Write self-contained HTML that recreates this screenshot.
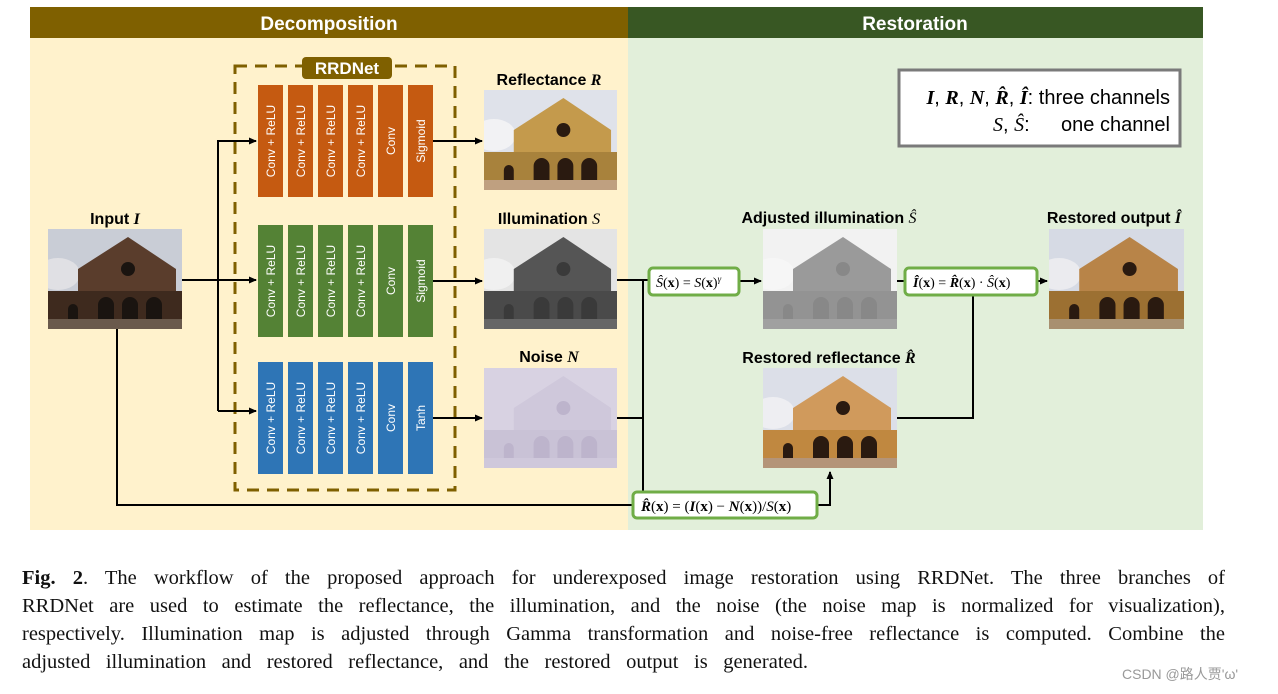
<!DOCTYPE html>
<html><head><meta charset="utf-8"><style>
body{margin:0;width:1278px;height:694px;background:#fff;overflow:hidden;position:relative}
svg text{font-family:"Liberation Sans","DejaVu Sans",sans-serif}
.cap{position:absolute;left:22px;width:1203px;font-family:"Liberation Serif",serif;font-size:20.5px;color:#111;line-height:28px;white-space:normal;text-align:justify;text-align-last:justify}
</style></head><body>
<svg width="1278" height="540" viewBox="0 0 1278 540" style="position:absolute;left:0;top:0">
<defs>
<symbol id="ch" viewBox="0 0 134 100" preserveAspectRatio="none">
<rect width="134" height="100" style="fill:var(--sky)"/>
<ellipse cx="10" cy="45" rx="22" ry="16" style="fill:var(--cl)"/>
<polygon points="30,40 80,8 128,40 128,100 30,100" style="fill:var(--b1)"/>
<rect x="0" y="62" width="134" height="38" style="fill:var(--b2)"/>
<circle cx="80" cy="40" r="7" style="fill:var(--w)"/>
<rect x="0" y="90" width="134" height="10" style="fill:var(--g)"/>
<path d="M20 90v-10a5 5 0 0 1 10 0v10M50 90v-14a8 8 0 0 1 16 0v14M74 90v-14a8 8 0 0 1 16 0v14M98 90v-14a8 8 0 0 1 16 0v14" style="fill:var(--w)"/>
</symbol>
<marker id="a" markerWidth="8" markerHeight="8" refX="7" refY="4" orient="auto" markerUnits="userSpaceOnUse"><path d="M0,0.5L8,4L0,7.5z" fill="#000"/></marker>
</defs>
<rect x="30" y="7" width="598" height="31" fill="#7f6000"/>
<rect x="628" y="7" width="575" height="31" fill="#385723"/>
<rect x="30" y="38" width="598" height="492" fill="#fff2cc"/>
<rect x="628" y="38" width="575" height="492" fill="#e2efda"/>
<text x="329" y="30" fill="#fff" font-size="19" font-weight="bold" text-anchor="middle">Decomposition</text>
<text x="915" y="30" fill="#fff" font-size="19" font-weight="bold" text-anchor="middle">Restoration</text>
<rect x="235" y="66" width="220" height="424" fill="none" stroke="#7f6000" stroke-width="3" stroke-dasharray="12,8"/>
<rect x="302" y="57" width="90" height="22" rx="4" fill="#7f6000"/>
<text x="347" y="74" fill="#fff" font-size="17" font-weight="bold" text-anchor="middle">RRDNet</text>
<g font-size="12" fill="#fff" text-anchor="middle">
<rect x="258" y="85" width="25" height="112" fill="#c55a11"/><rect x="288" y="85" width="25" height="112" fill="#c55a11"/><rect x="318" y="85" width="25" height="112" fill="#c55a11"/><rect x="348" y="85" width="25" height="112" fill="#c55a11"/><rect x="378" y="85" width="25" height="112" fill="#c55a11"/><rect x="408" y="85" width="25" height="112" fill="#c55a11"/>
<text transform="translate(275,141) rotate(-90)">Conv + ReLU</text><text transform="translate(305,141) rotate(-90)">Conv + ReLU</text><text transform="translate(335,141) rotate(-90)">Conv + ReLU</text><text transform="translate(365,141) rotate(-90)">Conv + ReLU</text><text transform="translate(395,141) rotate(-90)">Conv</text><text transform="translate(425,141) rotate(-90)">Sigmoid</text>
<rect x="258" y="225" width="25" height="112" fill="#548235"/><rect x="288" y="225" width="25" height="112" fill="#548235"/><rect x="318" y="225" width="25" height="112" fill="#548235"/><rect x="348" y="225" width="25" height="112" fill="#548235"/><rect x="378" y="225" width="25" height="112" fill="#548235"/><rect x="408" y="225" width="25" height="112" fill="#548235"/>
<text transform="translate(275,281) rotate(-90)">Conv + ReLU</text><text transform="translate(305,281) rotate(-90)">Conv + ReLU</text><text transform="translate(335,281) rotate(-90)">Conv + ReLU</text><text transform="translate(365,281) rotate(-90)">Conv + ReLU</text><text transform="translate(395,281) rotate(-90)">Conv</text><text transform="translate(425,281) rotate(-90)">Sigmoid</text>
<rect x="258" y="362" width="25" height="112" fill="#2e75b6"/><rect x="288" y="362" width="25" height="112" fill="#2e75b6"/><rect x="318" y="362" width="25" height="112" fill="#2e75b6"/><rect x="348" y="362" width="25" height="112" fill="#2e75b6"/><rect x="378" y="362" width="25" height="112" fill="#2e75b6"/><rect x="408" y="362" width="25" height="112" fill="#2e75b6"/>
<text transform="translate(275,418) rotate(-90)">Conv + ReLU</text><text transform="translate(305,418) rotate(-90)">Conv + ReLU</text><text transform="translate(335,418) rotate(-90)">Conv + ReLU</text><text transform="translate(365,418) rotate(-90)">Conv + ReLU</text><text transform="translate(395,418) rotate(-90)">Conv</text><text transform="translate(425,418) rotate(-90)">Tanh</text>
</g>
<use href="#ch" x="48" y="229" width="134" height="100" style="--sky:#c9cdd6;--cl:#e0e0e4;--b1:#5a3d2c;--b2:#3e2a1e;--w:#1a1410;--g:#6a5a4c"/>
<use href="#ch" x="484" y="90" width="133" height="100" style="--sky:#dfe2ea;--cl:#f2f2f4;--b1:#c49a4c;--b2:#a8823c;--w:#2a1a10;--g:#bfa080"/>
<use href="#ch" x="484" y="229" width="133" height="100" style="--sky:#e4e4e4;--cl:#f0f0f0;--b1:#555;--b2:#4a4a4a;--w:#3a3a3a;--g:#666"/>
<use href="#ch" x="484" y="368" width="133" height="100" style="--sky:#d8d2e2;--cl:#d8d2e2;--b1:#cfc8db;--b2:#c9c2d6;--w:#bdb4cc;--g:#cfc8db"/>
<use href="#ch" x="763" y="229" width="134" height="100" style="--sky:#f2f2f2;--cl:#f6f6f6;--b1:#9a9a9a;--b2:#939393;--w:#888;--g:#a0a0a0"/>
<use href="#ch" x="763" y="368" width="134" height="100" style="--sky:#dcdfe8;--cl:#eeeef2;--b1:#d09a5c;--b2:#c08840;--w:#2a1a10;--g:#b49478"/>
<use href="#ch" x="1049" y="229" width="135" height="100" style="--sky:#d6dae4;--cl:#ebebef;--b1:#b88448;--b2:#9c7032;--w:#2a1a10;--g:#a89070"/>
<g font-size="16" font-weight="bold" fill="#000" text-anchor="middle">
<text x="115" y="224">Input <tspan font-family="Liberation Serif" font-style="italic">I</tspan></text>
<text x="549" y="85">Reflectance <tspan font-family="Liberation Serif" font-style="italic">R</tspan></text>
<text x="549" y="224">Illumination <tspan font-family="Liberation Serif" font-style="italic" font-weight="normal">S</tspan></text>
<text x="549" y="362">Noise <tspan font-family="Liberation Serif" font-style="italic">N</tspan></text>
<text x="829" y="223">Adjusted illumination <tspan font-family="Liberation Serif" font-style="italic" font-weight="normal">Ŝ</tspan></text>
<text x="829" y="363">Restored reflectance <tspan font-family="Liberation Serif" font-style="italic">R̂</tspan></text>
<text x="1114" y="223">Restored output <tspan font-family="Liberation Serif" font-style="italic">Î</tspan></text>
</g>
<g stroke="#000" stroke-width="2" fill="none">
<path d="M182 280H256" marker-end="url(#a)"/>
<path d="M218 411V141H256" marker-end="url(#a)"/>
<path d="M218 411H256" marker-end="url(#a)"/>
<path d="M433 141H482" marker-end="url(#a)"/>
<path d="M433 281H482" marker-end="url(#a)"/>
<path d="M433 418H482" marker-end="url(#a)"/>
<path d="M617 280H649"/>
<path d="M617 418H643"/>
<path d="M643 280V492"/>
<path d="M117 329V505H633"/>
<path d="M817 505H830V472" marker-end="url(#a)"/>
<path d="M739 281H761" marker-end="url(#a)"/>
<path d="M897 281H905"/>
<path d="M1037 281H1047" marker-end="url(#a)"/>
<path d="M897 418H973V295"/>
</g>
<rect x="649" y="268" width="90" height="27" rx="4" fill="#fff" stroke="#70ad47" stroke-width="3"/>
<rect x="905" y="268" width="132" height="27" rx="4" fill="#fff" stroke="#70ad47" stroke-width="3"/>
<rect x="633" y="492" width="184" height="26" rx="4" fill="#fff" stroke="#70ad47" stroke-width="3"/>
<g font-size="14" fill="#000">
<text x="656" y="287" style="font-family:'Liberation Serif',serif"><tspan font-style="italic">Ŝ</tspan>(<tspan font-weight="bold">x</tspan>) = <tspan font-style="italic">S</tspan>(<tspan font-weight="bold">x</tspan>)<tspan font-size="9" dy="-5" font-style="italic">γ</tspan></text>
<text x="913" y="287" style="font-family:'Liberation Serif',serif"><tspan font-weight="bold" font-style="italic">Î</tspan>(<tspan font-weight="bold">x</tspan>) = <tspan font-weight="bold" font-style="italic">R̂</tspan>(<tspan font-weight="bold">x</tspan>) · <tspan font-style="italic">Ŝ</tspan>(<tspan font-weight="bold">x</tspan>)</text>
<text x="641" y="511" style="font-family:'Liberation Serif',serif;font-size:15px"><tspan font-weight="bold" font-style="italic">R̂</tspan>(<tspan font-weight="bold">x</tspan>) = (<tspan font-weight="bold" font-style="italic">I</tspan>(<tspan font-weight="bold">x</tspan>) − <tspan font-weight="bold" font-style="italic">N</tspan>(<tspan font-weight="bold">x</tspan>))/<tspan font-style="italic">S</tspan>(<tspan font-weight="bold">x</tspan>)</text>
</g>
<rect x="899" y="70" width="281" height="76" fill="#fff" stroke="#7a7a7a" stroke-width="3"/>
<text x="1170" y="104" font-size="20" text-anchor="end"><tspan style="font-family:'Liberation Serif',serif" font-weight="bold" font-style="italic">I</tspan>, <tspan style="font-family:'Liberation Serif',serif" font-weight="bold" font-style="italic">R</tspan>, <tspan style="font-family:'Liberation Serif',serif" font-weight="bold" font-style="italic">N</tspan>, <tspan style="font-family:'Liberation Serif',serif" font-weight="bold" font-style="italic">R̂</tspan>, <tspan style="font-family:'Liberation Serif',serif" font-weight="bold" font-style="italic">Î</tspan>: three channels</text>
<text x="993" y="131" font-size="20"><tspan style="font-family:'Liberation Serif',serif" font-style="italic">S</tspan>, <tspan style="font-family:'Liberation Serif',serif" font-style="italic">Ŝ</tspan>:</text>
<text x="1170" y="131" font-size="20" text-anchor="end">one channel</text>
</svg>
<div class="cap" style="top:564px"><b>Fig. 2</b>. The workflow of the proposed approach for underexposed image restoration using RRDNet. The three branches of</div>
<div class="cap" style="top:592px">RRDNet are used to estimate the reflectance, the illumination, and the noise (the noise map is normalized for visualization),</div>
<div class="cap" style="top:620px">respectively. Illumination map is adjusted through Gamma transformation and noise-free reflectance is computed. Combine the</div>
<div class="cap" style="top:648px;width:786px">adjusted illumination and restored reflectance, and the restored output is generated.</div>
<div style="position:absolute;left:1122px;top:664px;font:14px 'Liberation Sans','Noto Sans CJK SC',sans-serif;color:#999">CSDN @路人贾'ω'</div>
</body></html>
